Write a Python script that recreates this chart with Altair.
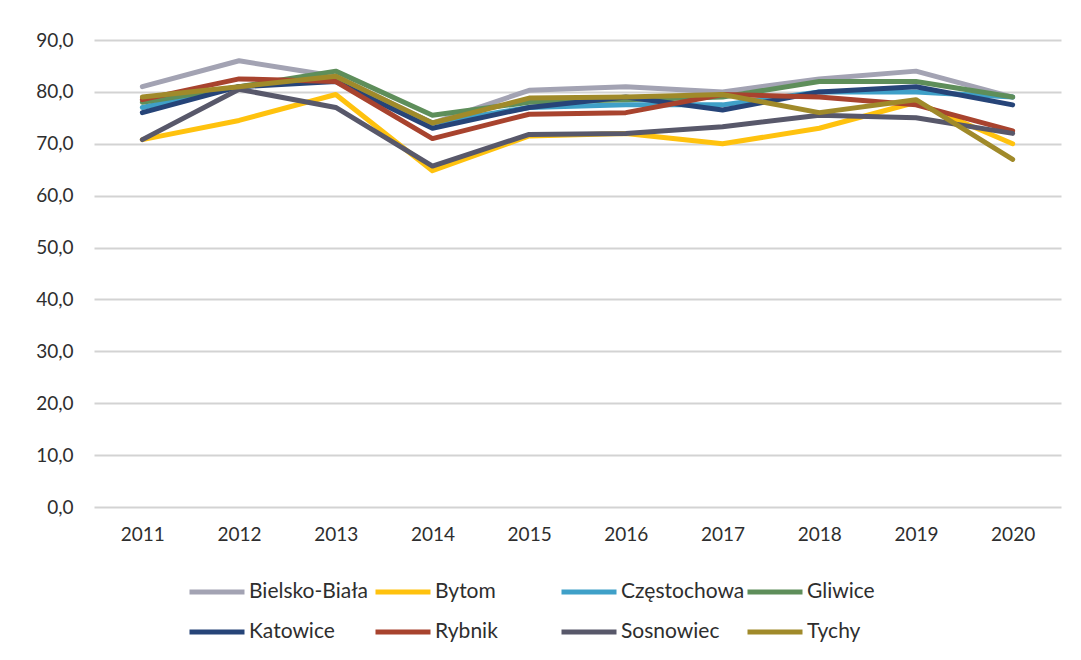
import altair as alt
import pandas as pd

years = ["2011", "2012", "2013", "2014", "2015", "2016", "2017", "2018", "2019", "2020"]
cities = ["Bielsko-Biała", "Bytom", "Częstochowa", "Gliwice",
          "Katowice", "Rybnik", "Sosnowiec", "Tychy"]
colors = ["#A3A3B3", "#FFC20E", "#3FA0C8", "#5E8E5A",
          "#264478", "#A8432E", "#58586A", "#A08A2A"]

bielsko = [81.0, 86.0, 83.0, 74.0, 80.3, 81.0, 80.0, 82.5, 84.0, 79.0]
bytom = [70.8, 74.5, 79.5, 64.8, 71.5, 72.0, 70.0, 73.0, 78.0, 70.0]
czestochowa = [77.0, 81.0, 82.5, 74.0, 77.0, 77.5, 77.5, 80.0, 80.0, 79.0]
gliwice = [78.0, 81.0, 84.0, 75.5, 78.0, 78.5, 79.0, 82.0, 82.0, 79.0]
katowice = [76.0, 81.0, 82.0, 73.0, 77.0, 79.0, 76.5, 80.0, 81.0, 77.5]
rybnik = [78.5, 82.5, 82.0, 71.0, 75.7, 76.0, 79.5, 79.0, 77.5, 72.5]
sosnowiec = [70.8, 80.5, 77.0, 65.7, 71.8, 72.0, 73.3, 75.5, 75.0, 72.0]
tychy = [79.0, 81.0, 83.0, 74.0, 78.8, 79.0, 79.5, 76.0, 78.5, 67.0]

y_ticks = [0, 10, 20, 30, 40, 50, 60, 70, 80, 90]

series = [bielsko, bytom, czestochowa, gliwice, katowice, rybnik, sosnowiec, tychy]
rows = []
for i, (city, vals) in enumerate(zip(cities, series)):
    for yr, v in zip(years, vals):
        rows.append({"Rok": yr, "Miasto": city, "Wartość": v, "idx": i})
df = pd.DataFrame(rows)

FONT = "Lato"
TXT = "#2E2E2E"

chart = alt.Chart(df).mark_line(strokeWidth=5, strokeCap="round", strokeJoin="round").encode(
    x=alt.X("Rok:N", sort=years, title=None,
            scale=alt.Scale(paddingOuter=0.5),
            axis=alt.Axis(labelAngle=0, domain=False, ticks=False, grid=False,
                          labelPadding=18, labelFontSize=19, labelFont=FONT,
                          labelColor=TXT)),
    y=alt.Y("Wartość:Q", title=None,
            scale=alt.Scale(domain=[0, 90], nice=False),
            axis=alt.Axis(values=y_ticks, domain=False, ticks=False,
                          labelExpr="replace(format(datum.value, '.1f'), '.', ',')",
                          labelPadding=21, labelFontSize=19, labelFont=FONT,
                          labelColor=TXT, gridColor="#D3D3D3", gridWidth=2)),
    color=alt.Color("Miasto:N", sort=cities,
                    scale=alt.Scale(domain=cities, range=colors),
                    legend=alt.Legend(title=None, orient="none", legendX=93, legendY=522,
                                      direction="horizontal", columns=4, gridAlign="all",
                                      symbolType="stroke", symbolSize=3025,
                                      symbolStrokeWidth=5, labelFontSize=21,
                                      labelFont=FONT, labelColor=TXT, labelOffset=2,
                                      rowPadding=-11, columnPadding=-8, labelLimit=300)),
    order=alt.Order("idx:Q"),
).properties(
    width=967, height=467,
    padding={"left": 27, "top": 23, "right": 5, "bottom": 5},
    background="white",
).configure_view(stroke=None)

chart.save("out.html", embed_options={"renderer": "svg", "actions": False})
